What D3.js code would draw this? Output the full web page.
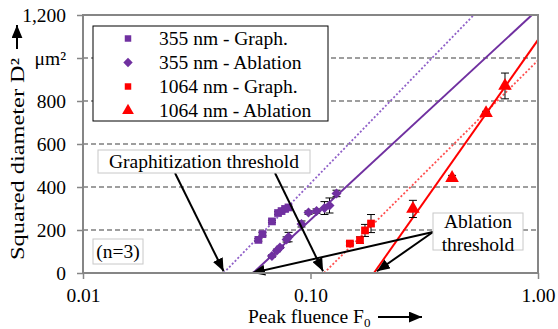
<!DOCTYPE html>
<html>
<head>
<meta charset="utf-8">
<script src="https://cdn.jsdelivr.net/npm/d3@7"></script>
<style>
  body { margin: 0; background: #fff; }
  svg text { font-family: "Liberation Serif", Tinos, "Times New Roman", Times, "DejaVu Serif", serif; fill: #000; }
</style>
</head>
<body>
<div id="chart-area"></div>
<script>
// data
var f355Graph = [0.059, 0.0615, 0.0677, 0.072, 0.0746, 0.0773, 0.080];
var d355Graph = [154, 181, 240, 279, 288, 298, 305];
var e355Graph = [6, 8, 5, 6, 5, 5, 5];

var f355Abl = [0.0677, 0.0712, 0.0734, 0.0785, 0.0801, 0.0913, 0.098, 0.1063, 0.1152, 0.1212, 0.1301];
var d355Abl = [79, 105, 119, 156, 167, 228, 281, 288, 302, 314, 370];
var e355Abl = [5, 6, 5, 12, 22, 14, 8, 10, 30, 35, 15];

var f1064Graph = [0.149, 0.165, 0.1736, 0.1845];
var d1064Graph = [137, 153, 198, 230];
var e1064Graph = [8, 15, 28, 42];

var f1064Abl = [0.282, 0.419, 0.591, 0.716];
var d1064Abl = [298, 442, 744, 870];
var e1064Abl = [40, 12, 8, 60];

// fit lines: [fluence, D²] end points
var fit355Graph = [[0.0415, 0], [0.522, 1200]];
var fit355Abl = [[0.0559, 0], [0.94, 1200]];
var fit1064Graph = [[0.1147, 0], [1.0, 989]];
var fit1064Abl = [[0.190, 0], [1.0, 1084]];

var yTicks = [0, 200, 400, 600, 800, 1000, 1200];
var xTicks = [0.01, 0.1, 1];
var legendLabels = ["355 nm - Graph.", "355 nm - Ablation", "1064 nm - Graph.", "1064 nm - Ablation"];

var purple = "#7030a0", red = "#ff0000";
var axisGray = "#868686";
var serif = "'Liberation Serif', Tinos, 'Times New Roman', Times, 'DejaVu Serif', serif";

var margin = {top: 15, right: 20, bottom: 56, left: 83};
var width = 558 - margin.left - margin.right;
var height = 329 - margin.top - margin.bottom;

var svg = d3.select("#chart-area").append("svg")
    .attr("width", 558)
    .attr("height", 329)
    .attr("font-family", serif);

var defs = svg.append("defs");
defs.append("marker")
    .attr("id", "head")
    .attr("viewBox", "0 0 12 10")
    .attr("refX", 12).attr("refY", 5)
    .attr("markerWidth", 13).attr("markerHeight", 11)
    .attr("markerUnits", "userSpaceOnUse")
    .attr("orient", "auto")
  .append("path")
    .attr("d", "M0,0 L12,5 L0,10 Z")
    .attr("fill", "#000");
defs.append("clipPath").attr("id", "plotclip")
  .append("rect").attr("width", width).attr("height", height);

var g = svg.append("g").attr("transform", "translate(" + margin.left + "," + margin.top + ")");

var x = d3.scaleLog().domain([0.01, 1]).range([0, width]);
var y = d3.scaleLinear().domain([0, 1200]).range([height, 0]);

// dashed grid
g.selectAll(".grid").data(yTicks.filter(function(d){ return d > 0 && d < 1200; }))
  .enter().append("line")
    .attr("x1", 0).attr("x2", width)
    .attr("y1", function(d){ return y(d); })
    .attr("y2", function(d){ return y(d); })
    .attr("stroke", "#7f7f7f")
    .attr("stroke-width", 1.5)
    .attr("stroke-dasharray", "5,3");

// fit lines
var line = d3.line().x(function(d){ return x(d[0]); }).y(function(d){ return y(d[1]); });
var fits = [
  {pts: fit355Graph, color: "#9060c8", dash: "2,2"},
  {pts: fit355Abl, color: purple, dash: null},
  {pts: fit1064Graph, color: "#ff5050", dash: "2,2"},
  {pts: fit1064Abl, color: red, dash: null}
];
var fitG = g.append("g").attr("clip-path", "url(#plotclip)");
fits.forEach(function(f){
  fitG.append("path")
    .attr("d", line(f.pts))
    .attr("fill", "none")
    .attr("stroke", f.color)
    .attr("stroke-width", f.dash ? 1.8 : 2)
    .attr("stroke-dasharray", f.dash);
});

// series
var series = [
  {f: f355Graph, d: d355Graph, e: e355Graph, color: purple, shape: "square"},
  {f: f355Abl, d: d355Abl, e: e355Abl, color: purple, shape: "diamond"},
  {f: f1064Graph, d: d1064Graph, e: e1064Graph, color: red, shape: "square"},
  {f: f1064Abl, d: d1064Abl, e: e1064Abl, color: red, shape: "triangle"}
];

function symbolPath(shape, small) {
  if (shape === "triangle") return d3.symbol().type(d3.symbolTriangle).size(small ? 60 : 80)();
  if (shape === "diamond") return d3.symbol().type(d3.symbolSquare).size(small ? 44 : 50)();
  return d3.symbol().type(d3.symbolSquare).size(small ? 42 : 60)();
}

series.forEach(function(s){
  var pts = s.f.map(function(v, i){ return {f: v, d: s.d[i], e: s.e[i]}; });
  var eb = g.append("g").attr("stroke", "#000").attr("stroke-width", 1);
  pts.forEach(function(p){
    var cx = x(p.f), y0 = y(p.d - p.e), y1 = y(p.d + p.e);
    eb.append("line").attr("x1", cx).attr("x2", cx).attr("y1", y0).attr("y2", y1);
    eb.append("line").attr("x1", cx - 4).attr("x2", cx + 4).attr("y1", y0).attr("y2", y0);
    eb.append("line").attr("x1", cx - 4).attr("x2", cx + 4).attr("y1", y1).attr("y2", y1);
  });
  g.append("g").selectAll("path").data(pts).enter().append("path")
    .attr("d", symbolPath(s.shape))
    .attr("transform", function(p){
      return "translate(" + x(p.f) + "," + y(p.d) + ")" + (s.shape === "diamond" ? " rotate(45)" : "");
    })
    .attr("fill", s.color);
});

// annotations
function box(x0, y0, w, h) {
  g.append("rect").attr("x", x0 - margin.left).attr("y", y0 - margin.top)
    .attr("width", w).attr("height", h)
    .attr("fill", "#fff").attr("stroke", "#c8c8c8").attr("stroke-width", 1);
}
function arrow(x0, y0, x1, y1) {
  g.append("line")
    .attr("x1", x0).attr("y1", y0).attr("x2", x1).attr("y2", y1)
    .attr("stroke", "#000").attr("stroke-width", 2)
    .attr("marker-end", "url(#head)");
}

// graphitization
arrow(175 - margin.left, 173 - margin.top, x(fit355Graph[0][0]), y(8));
arrow(275 - margin.left, 173 - margin.top, x(fit1064Graph[0][0]) - 1, y(8));
box(98, 150, 212, 23);
g.append("text").attr("x", 204 - margin.left).attr("y", 168 - margin.top)
  .attr("text-anchor", "middle").style("font-size", "19.5px")
  .text("Graphitization threshold");

// ablation
arrow(433 - margin.left, 232 - margin.top, x(fit355Abl[0][0]) - 1, y(0));
arrow(433 - margin.left, 232 - margin.top, x(fit1064Abl[0][0]) + 3, y(8));
box(433, 213, 90, 37);
var abl = g.append("text").attr("text-anchor", "middle").style("font-size", "19.5px");
abl.append("tspan").attr("x", 478 - margin.left).attr("y", 228 - margin.top).text("Ablation");
abl.append("tspan").attr("x", 478 - margin.left).attr("y", 250.5 - margin.top).text("threshold");

// (n=3)
box(93, 239, 50, 25);
g.append("text").attr("x", 118 - margin.left).attr("y", 258 - margin.top)
  .attr("text-anchor", "middle").style("font-size", "19.5px").text("(n=3)");

// legend
var leg = g.append("g").attr("transform", "translate(" + (93 - margin.left) + "," + (26 - margin.top) + ")");
leg.append("rect").attr("width", 235).attr("height", 95)
  .attr("fill", "#fff").attr("stroke", "#000").attr("stroke-width", 1);
legendLabels.forEach(function(lbl, i){
  var cy = 12.5 + i * 24;
  leg.append("path")
    .attr("d", symbolPath(series[i].shape, true))
    .attr("transform", "translate(35," + cy + ")" + (series[i].shape === "diamond" ? " rotate(45)" : ""))
    .attr("fill", series[i].color);
  leg.append("text").attr("x", 66).attr("y", cy).attr("dy", "0.35em")
    .style("font-size", "19.5px").text(lbl);
});

// frame + axes
g.append("rect").attr("width", width).attr("height", height)
  .attr("fill", "none").attr("stroke", axisGray).attr("stroke-width", 2);

var yAxis = d3.axisLeft(y).tickValues(yTicks).tickSize(6).tickPadding(11)
  .tickFormat(function(d){ return d === 1000 ? "\u03bcm\u00b2" : d3.format(",")(d); });
var yg = g.append("g").call(yAxis);

var xAxis = d3.axisBottom(x).tickValues(xTicks).tickSize(6).tickPadding(9)
  .tickFormat(d3.format(".2f"));
var xg = g.append("g").attr("transform", "translate(0," + height + ")").call(xAxis);

[yg, xg].forEach(function(a){
  a.attr("font-family", serif).attr("font-size", 19.5);
  a.select(".domain").remove();
  a.selectAll(".tick line").attr("stroke", axisGray).attr("stroke-width", 1.5);
  a.selectAll(".tick text").attr("fill", "#000");
});

// axis titles
var xt = svg.append("text").attr("x", 248).attr("y", 323).style("font-size", "19.5px");
xt.append("tspan").text("Peak fluence F");
xt.append("tspan").attr("dy", 4).style("font-size", "13px").text("0");
svg.append("line").attr("x1", 378).attr("y1", 317).attr("x2", 422).attr("y2", 317)
  .attr("stroke", "#000").attr("stroke-width", 2).attr("marker-end", "url(#head)");

svg.append("text").attr("transform", "translate(24,58) rotate(-90)")
  .attr("text-anchor", "end").style("font-size", "19.5px")
  .attr("textLength", 202).attr("lengthAdjust", "spacingAndGlyphs")
  .text("Squared diameter D\u00b2");
svg.append("line").attr("x1", 17).attr("y1", 49).attr("x2", 17).attr("y2", 25)
  .attr("stroke", "#000").attr("stroke-width", 2).attr("marker-end", "url(#head)");
</script>
</body>
</html>
